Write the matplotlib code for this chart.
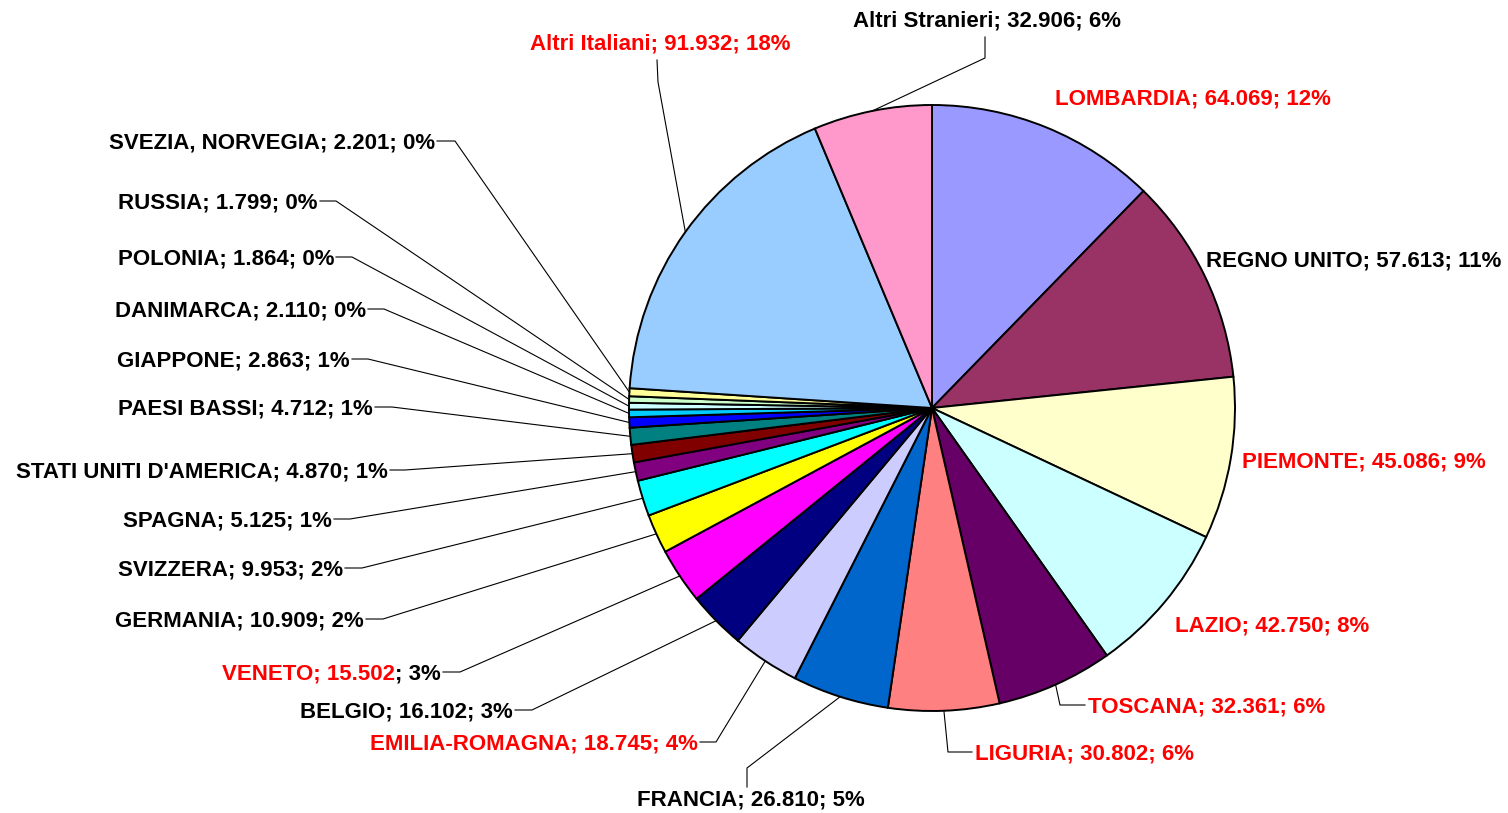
import matplotlib
matplotlib.use('Agg')
import matplotlib.pyplot as plt
import math

plt.rcParams['font.family'] = ['Liberation Sans', 'DejaVu Sans']
plt.rcParams['font.weight'] = 'bold'

# slices, clockwise from 12 o'clock
names = ['LOMBARDIA', 'REGNO UNITO', 'PIEMONTE', 'LAZIO', 'TOSCANA', 'LIGURIA',
         'FRANCIA', 'EMILIA-ROMAGNA', 'BELGIO', 'VENETO', 'GERMANIA', 'SVIZZERA',
         'SPAGNA', "STATI UNITI D'AMERICA", 'PAESI BASSI', 'GIAPPONE', 'DANIMARCA',
         'POLONIA', 'RUSSIA', 'SVEZIA, NORVEGIA', 'Altri Italiani', 'Altri Stranieri']
values = [64069, 57613, 45086, 42750, 32361, 30802, 26810, 18745, 16102, 15502,
          10909, 9953, 5125, 4870, 4712, 2863, 2110, 1864, 1799, 2201, 91932, 32906]
italian = ['LOMBARDIA', 'PIEMONTE', 'LAZIO', 'TOSCANA', 'LIGURIA',
           'EMILIA-ROMAGNA', 'VENETO', 'Altri Italiani']
colors = ['#9999FF', '#993366', '#FFFFCC', '#CCFFFF', '#660066', '#FF8080',
          '#0066CC', '#CCCCFF', '#000080', '#FF00FF', '#FFFF00', '#00FFFF',
          '#800080', '#800000', '#008080', '#0000FF', '#00CCFF', '#CCFFFF',
          '#CCFFCC', '#FFFF99', '#99CCFF', '#FF99CC']

W, H = 1508, 813
CX, CY, R = 932, 408, 303

# label layout in pixels: x, y, ha, leader points (text side first)
layout = {
    'LOMBARDIA': (1055, 97, 'left', None),
    'REGNO UNITO': (1501, 259, 'right', None),
    'PIEMONTE': (1242, 460, 'left', None),
    'LAZIO': (1175, 624, 'left', None),
    'TOSCANA': (1088, 705, 'left', [(1085, 705), (1060, 705)]),
    'LIGURIA': (975, 752, 'left', [(972, 752), (948, 752)]),
    'FRANCIA': (751, 798, 'center', [(747, 787), (747, 768)]),
    'EMILIA-ROMAGNA': (698, 742, 'right', [(700, 742), (716, 742)]),
    'BELGIO': (513, 710, 'right', [(515, 710), (532, 710)]),
    'VENETO': (441, 672, 'right', [(443, 672), (460, 672)]),
    'GERMANIA': (364, 619, 'right', [(366, 619), (383, 619)]),
    'SVIZZERA': (343, 568, 'right', [(345, 568), (362, 568)]),
    'SPAGNA': (332, 519, 'right', [(334, 519), (350, 519)]),
    "STATI UNITI D'AMERICA": (388, 470, 'right', [(390, 470), (405, 470)]),
    'PAESI BASSI': (373, 407, 'right', [(375, 407), (392, 407)]),
    'GIAPPONE': (350, 359, 'right', [(352, 359), (368, 359)]),
    'DANIMARCA': (366, 309, 'right', [(368, 309), (384, 309)]),
    'POLONIA': (334, 257, 'right', [(336, 257), (352, 257)]),
    'RUSSIA': (318, 201, 'right', [(320, 201), (336, 201)]),
    'SVEZIA, NORVEGIA': (435, 141, 'right', [(437, 141), (455, 141)]),
    'Altri Italiani': (660, 42, 'center', [(657, 60), (658, 82)]),
    'Altri Stranieri': (987, 19, 'center', [(985, 37), (985, 58)]),
}
# only the name and value are red for VENETO
red_prefix = {'VENETO'}


def fy(y):
    return H - y


fig = plt.figure(figsize=(W / 100, H / 100), dpi=100)
ax = fig.add_axes([0, 0, 1, 1])
wedges, _ = ax.pie(values, colors=colors, startangle=90, counterclock=False,
                   center=(CX, fy(CY)), radius=R,
                   wedgeprops=dict(edgecolor='black', linewidth=1.4))
ax.set_xlim(0, W)
ax.set_ylim(0, H)
ax.set_aspect('equal')
ax.axis('off')

total = sum(values)
renderer = fig.canvas.get_renderer()
inv = ax.transData.inverted()
fs = 16

for i, name in enumerate(names):
    v = values[i]
    num = f"{v:,}".replace(',', '.')
    pct = int(100 * v / total + 0.5)
    x, y, ha, leader = layout[name]
    col = 'red' if name in italian else 'black'
    ty = fy(y + 2)
    if name in red_prefix:
        t = ax.text(x, ty, f"; {pct}%", ha='right', va='center', fontsize=fs, color='black')
        bb = t.get_window_extent(renderer)
        x0 = inv.transform((bb.x0, bb.y0))[0]
        ax.text(x0, ty, f"{name}; {num}", ha='right', va='center', fontsize=fs, color='red')
    else:
        ax.text(x, ty, f"{name}; {num}; {pct}%", ha=ha, va='center', fontsize=fs, color=col)
    if leader:
        w = wedges[i]
        mid = math.radians((w.theta1 + w.theta2) / 2)
        ex = CX + R * math.cos(mid)
        ey = fy(CY) + R * math.sin(mid)
        xs = [p[0] for p in leader] + [ex]
        ys = [fy(p[1]) for p in leader] + [ey]
        ax.plot(xs, ys, color='black', linewidth=0.8)

fig.savefig('out.png', dpi=100)
